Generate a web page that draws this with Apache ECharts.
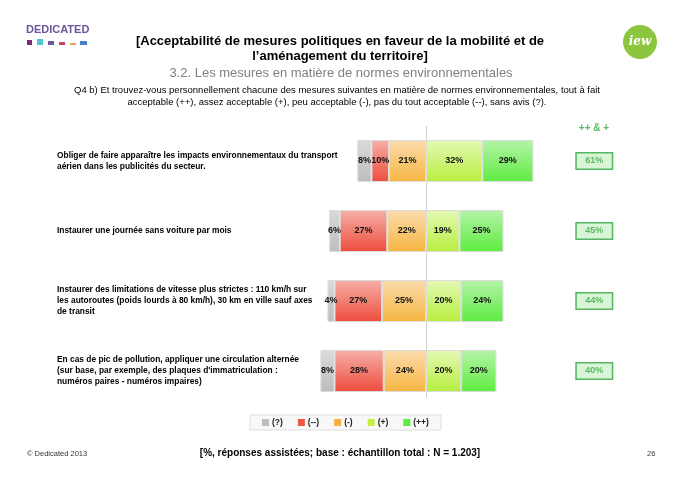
<!DOCTYPE html>
<html><head><meta charset="utf-8">
<script src="https://cdn.jsdelivr.net/npm/echarts@6/dist/echarts.min.js"></script>
<style>html,body{margin:0;padding:0;background:#fff}#c{width:680px;height:479px}</style>
</head><body><div id="c"></div>
<script>
var categories = [
  "Obliger de faire apparaître les impacts environnementaux du transport\naérien dans les publicités du secteur.",
  "Instaurer une journée sans voiture par mois",
  "Instaurer des limitations de vitesse plus strictes : 110 km/h sur\nles autoroutes (poids lourds à 80 km/h), 30 km en ville sauf axes\nde transit",
  "En cas de pic de pollution, appliquer une circulation alternée\n(sur base, par exemple, des plaques d'immatriculation :\nnuméros paires - numéros impaires)"
];
var sansAvis = [8, 6, 4, 8];          // (?)
var pasDuTout = [10, 27, 27, 28];     // (--)
var peu = [21, 22, 25, 24];           // (-)
var assez = [32, 19, 20, 20];         // (+)
var tout = [29, 25, 24, 20];          // (++)
var totalPlus = [61, 45, 44, 40];     // ++ & +

function grad(top, bottom) {
  return new echarts.graphic.LinearGradient(0, 0, 0, 1, [{offset: 0, color: top}, {offset: 1, color: bottom}]);
}
var FF = 'Liberation Sans, Arial, sans-serif';
var labelStyle = {
  show: true, position: 'inside', color: '#111', fontSize: 9, fontWeight: 'bold', fontFamily: FF,
  formatter: function (p) { return Math.abs(p.value) + '%'; }
};
function mk(name, data, neg, top, bottom) {
  return {
    name: name, type: 'bar', stack: 'all', barWidth: 42,
    data: data.map(function (v) { return neg ? -v : v; }),
    itemStyle: {color: grad(top, bottom), borderColor: '#dcdcdc', borderWidth: 1},
    label: labelStyle,
    emphasis: {disabled: true}
  };
}
var series = [
  mk('(-)', peu, true, '#fbdcae', '#f6b540'),
  mk('(--)', pasDuTout, true, '#f5b0a8', '#ee4c3c'),
  mk('(?)', sansAvis, true, '#dadada', '#bcbcbc'),
  mk('(+)', assez, false, '#e4f9b4', '#b8ee40'),
  mk('(++)', tout, false, '#b4f4a8', '#5eec40')
];
series[0].markLine = {
  silent: true, symbol: 'none', label: {show: false}, z: 0,
  lineStyle: {color: '#cfcfcf', width: 1, type: 'solid'},
  data: [[{xAxis: 0, y: 126}, {xAxis: 0, y: 398}]]
};
var legendColors = {'(?)': '#bdbdbd', '(--)': '#f05545', '(-)': '#f7b040', '(+)': '#c5f040', '(++)': '#5cec40'};
var legendOrder = ['(?)', '(--)', '(-)', '(+)', '(++)'];

var chart = echarts.init(document.getElementById('c'));
chart.setOption({
  animation: false,
  textStyle: {fontFamily: FF},
  grid: {left: 250, top: 126, width: 316.8, height: 280},
  xAxis: {type: 'value', min: -100, max: 80, show: false},
  yAxis: [
    {type: 'category', data: categories, inverse: true, position: 'left',
     axisLine: {show: false}, axisTick: {show: false},
     axisLabel: {align: 'left', margin: 193, color: '#000', fontSize: 8.4, fontWeight: 'bold', lineHeight: 11,
                 fontFamily: FF, padding: [0, 0, 6, 0]}},
    {type: 'category', data: categories, inverse: true, position: 'right',
     axisLine: {show: false}, axisTick: {show: false},
     axisLabel: {align: 'center', margin: 27.5,
       formatter: function (v, i) { return totalPlus[i] + '%'; },
       color: '#5cb860', fontSize: 9, fontWeight: 'bold', width: 31, height: 12, lineHeight: 12,
       backgroundColor: '#d8f5d8', borderColor: '#55b560', borderWidth: 1.5, padding: [2, 2, 1, 2]}}
  ],
  legend: {
    data: legendOrder.map(function (n) { return {name: n, itemStyle: {color: legendColors[n], borderWidth: 0}}; }),
    left: 250, top: 415, icon: 'rect', itemWidth: 7, itemHeight: 7, itemGap: 15,
    padding: [3, 12, 3, 12], borderColor: '#dedede', borderWidth: 1, backgroundColor: '#f8f8f8',
    textStyle: {fontSize: 8.5, fontWeight: 'bold', color: '#222', padding: [0, 0, 0, -2]}
  },
  series: series,
  graphic: [
    {type: 'text', left: 26, top: 24, style: {text: 'DEDICATED', font: 'bold 11px ' + FF, fill: '#6b559a'}},
    {type: 'rect', shape: {x: 27, y: 40, width: 5, height: 5}, style: {fill: '#7a2a7a'}},
    {type: 'rect', shape: {x: 37, y: 39, width: 6, height: 6}, style: {fill: '#50c8d0'}},
    {type: 'rect', shape: {x: 48, y: 41, width: 6, height: 4}, style: {fill: '#6a5aa0'}},
    {type: 'rect', shape: {x: 59, y: 42, width: 6, height: 3}, style: {fill: '#d04060'}},
    {type: 'rect', shape: {x: 70, y: 43, width: 6, height: 2}, style: {fill: '#f0a050'}},
    {type: 'rect', shape: {x: 80, y: 41, width: 7, height: 4}, style: {fill: '#4a80c0'}},
    {type: 'circle', shape: {cx: 640, cy: 42, r: 17}, style: {fill: '#8cc63f'}},
    {type: 'text', x: 640, y: 42, style: {text: 'iew', font: 'italic bold 12px DejaVu Serif, serif', fill: '#fff', align: 'center', verticalAlign: 'middle'}},
    {type: 'text', x: 340, y: 33.5, style: {text: "[Acceptabilité de mesures politiques en faveur de la mobilité et de\nl\u2019aménagement du territoire]", font: 'bold 13px ' + FF, fill: '#000', align: 'center', verticalAlign: 'top', lineHeight: 15}},
    {type: 'text', x: 341, y: 66.5, style: {text: '3.2. Les mesures en matière de normes environnementales', font: '13px ' + FF, fill: '#808080', align: 'center', verticalAlign: 'top'}},
    {type: 'text', x: 337, y: 84, style: {text: 'Q4 b) Et trouvez-vous personnellement chacune des mesures suivantes en matière de normes environnementales, tout à fait\nacceptable (++), assez acceptable (+), peu acceptable (-), pas du tout acceptable (--), sans avis (?).', font: '9.5px ' + FF, fill: '#000', align: 'center', verticalAlign: 'top', lineHeight: 12.5}},
    {type: 'text', x: 594, y: 123, style: {text: '++ & +', font: 'bold 10px ' + FF, fill: '#5cb860', align: 'center', verticalAlign: 'top'}},
    {type: 'text', x: 27, y: 450, style: {text: '© Dedicated 2013', font: '7.5px ' + FF, fill: '#333', verticalAlign: 'top'}},
    {type: 'text', x: 340, y: 448, style: {text: '[%, réponses assistées; base : échantillon total : N = 1.203]', font: 'bold 10px ' + FF, fill: '#000', align: 'center', verticalAlign: 'top'}},
    {type: 'text', x: 647, y: 450, style: {text: '26', font: '7.5px ' + FF, fill: '#333', verticalAlign: 'top'}}
  ]
});
</script>
</body></html>
